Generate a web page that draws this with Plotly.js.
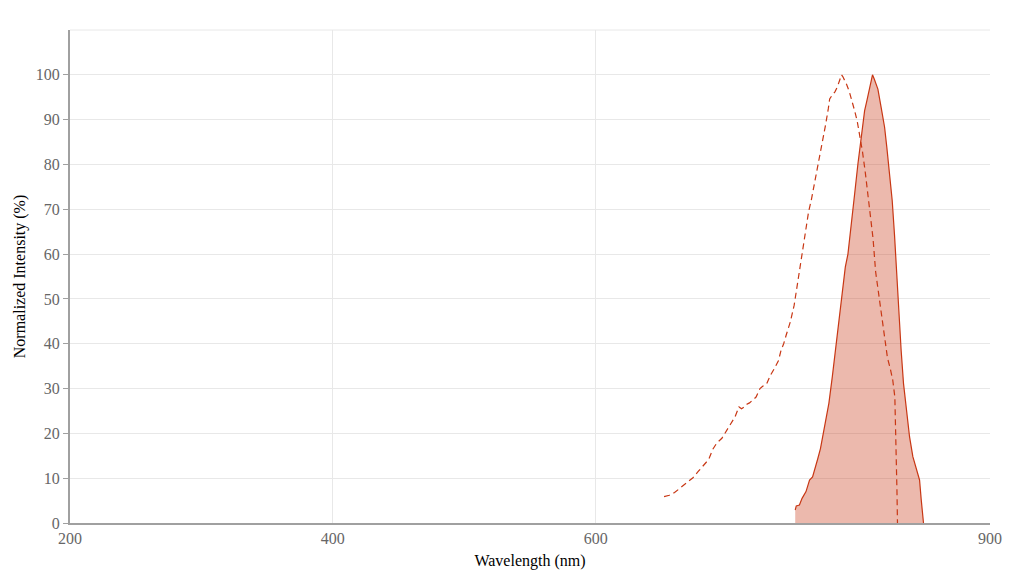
<!DOCTYPE html>
<html>
<head>
<meta charset="utf-8">
<script src="https://cdn.plot.ly/plotly-3.0.1.min.js"></script>
<style>html,body{margin:0;padding:0;background:#fff}#chart{width:1010px;height:574px}</style>
</head>
<body>
<div id="chart"></div>
<script>
var excitationWavelength = [652,656,660,664,669,674,678,682,686,689,692,696,700,703,706,709,711,713,715,717,720,722,725,727,730,733,736,739,741,743,745,748,751,754,757,760,762,764,767,769,771,773,775,777,778,780,782,784,786,787,788,789,791,793,795,797,799,801,803,805,807,809,811,813,815,816,818,820,822,824,826,827.6,828.2,828.7,829.2,829.6];
var excitationIntensity = [5.9,6.2,6.8,7.8,9.0,10.1,11.5,12.9,14.2,16.4,17.8,18.9,20.9,22.3,23.7,25.9,25.5,25.9,26.5,26.8,27.5,28.1,30,30.5,31,33.0,34.5,36.2,38.5,40.0,42.0,44.8,48.6,54.3,59.5,66,69.5,72,76.5,79.4,82.5,85.3,89,92.5,94.6,95.5,96.2,97.4,99.5,100,99.6,99,97.8,96.2,94.2,92,89.6,86.5,82.8,78.5,73.6,68,63.5,56,51.7,49.7,45,40.8,36.8,34.6,31.9,28.1,22,14.8,7.3,0];
var emissionWavelength = [751.8,752.6,755,757,760,762.7,765,767,769,771,773,775,777.4,780,782.3,784.8,787.6,789.9,791.9,794.4,797,799.5,802,804.6,806.3,808.4,810.6,812,814.7,817.2,819.8,821.5,823.6,825.6,827.4,829.2,830.6,832.4,834.2,836.2,838.8,841.3,843.8,846.4,847.7,849.4];
var emissionIntensity = [2.9,3.8,4.0,5.5,7.0,9.6,10.3,12.2,14.4,16.6,20,22.6,26.7,32.6,38.5,44.5,51.2,57.1,60,66,73.4,80.1,86,92,94.2,96.8,100,99,96.8,92.7,88.3,83.8,77.9,71.9,64,54.9,45.9,38.5,31.1,25.2,19.2,14.8,12.2,9.6,5.1,0];
var xTickVals = [200,400,600,900];
var yTickVals = [0,10,20,30,40,50,60,70,80,90,100];

var lineColor = 'rgb(200,55,20)';
var traces = [
  {x: emissionWavelength, y: emissionIntensity, type: 'scatter', mode: 'lines', name: 'Emission',
   line: {color: lineColor, width: 1.2}, fill: 'tozeroy', fillcolor: 'rgba(200,55,20,0.35)'},
  {x: excitationWavelength, y: excitationIntensity, type: 'scatter', mode: 'lines', name: 'Excitation',
   line: {color: lineColor, width: 1.2, dash: '6px,4px'}}
];
var fontFam = '"Liberation Serif", "Times New Roman", serif';
var layout = {
  width: 1010, height: 574,
  margin: {l: 70, r: 20, t: 30, b: 51},
  paper_bgcolor: '#fff', plot_bgcolor: '#fff',
  showlegend: false,
  font: {family: fontFam, size: 16, color: '#666'},
  xaxis: {range: [200, 900], tickvals: xTickVals, ticktext: xTickVals.map(String),
    showgrid: true, gridcolor: '#e8e8e8', zeroline: false,
    showline: true, linecolor: '#a0a0a0', linewidth: 2,
    ticks: '', ticklabelstandoff: 0,
    tickfont: {family: fontFam, size: 16, color: '#666'},
    title: {text: 'Wavelength (nm)', font: {family: fontFam, size: 16, color: '#000'}, standoff: 9}},
  yaxis: {range: [0, 110], tickvals: yTickVals, ticktext: yTickVals.map(String),
    showgrid: true, gridcolor: '#e8e8e8', zeroline: false,
    showline: true, linecolor: '#a0a0a0', linewidth: 2,
    ticks: 'outside', ticklen: 5, tickcolor: '#a0a0a0',
    tickfont: {family: fontFam, size: 16, color: '#666'},
    title: {text: 'Normalized Intensity (%)', font: {family: fontFam, size: 16, color: '#000'}, standoff: 6}},
  shapes: [{type: 'line', xref: 'paper', yref: 'paper', x0: 0, x1: 1, y0: 1, y1: 1, line: {color: '#e8e8e8', width: 1}, layer: 'below'}]
};
Plotly.newPlot('chart', traces, layout, {displayModeBar: false, staticPlot: true});
</script>
</body>
</html>
